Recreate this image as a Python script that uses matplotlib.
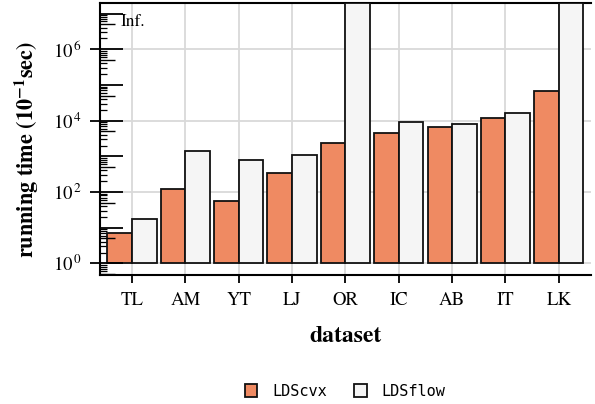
import numpy as np
import matplotlib
matplotlib.use("Agg")
import matplotlib.pyplot as plt
from matplotlib.ticker import FixedLocator, FixedFormatter, NullFormatter
from matplotlib.patches import Patch

datasets = ["TL", "AM", "YT", "LJ", "OR", "IC", "AB", "IT", "LK"]
lds_cvx = [7.1, 124, 55, 340, 2300, 4350, 6700, 11700, 67000]
lds_flow = [17.9, 1400, 800, 1100, np.inf, 8900, 7950, 16600, np.inf]
series_names = ["LDScvx", "LDSflow"]
colors = ["#ef8a62", "#f5f5f5"]

plt.rcParams["font.family"] = ["STIXGeneral", "DejaVu Serif"]
plt.rcParams["mathtext.fontset"] = "stix"

fig = plt.figure(figsize=(5.95, 4.04), dpi=100)
ax = fig.add_axes([0.168, 0.319, 0.825, 0.674])

ymin, ymax = 10 ** -0.33, 10 ** 7.3
x = np.arange(len(datasets))
w = 0.46
for i, (vals, col) in enumerate(zip([lds_cvx, lds_flow], colors)):
    v = np.array(vals, dtype=float)
    v = np.where(np.isinf(v), ymax, v)
    ax.bar(x + (i - 0.5) * w, v - 1, bottom=1, width=w, color=col,
           edgecolor="#111111", linewidth=1.3, zorder=3)

ax.set_yscale("log")
ax.set_ylim(ymin, ymax)
ax.set_xlim(-0.6, len(datasets) - 0.4)

# y ticks
major = [1e0, 1e2, 1e4, 1e6]
ax.yaxis.set_major_locator(FixedLocator(major))
ax.yaxis.set_major_formatter(FixedFormatter([r"$10^{\,0}$", r"$10^{\,2}$", r"$10^{\,4}$", r"$10^{\,6}$"]))
minors = [s * 10.0 ** k for k in range(-1, 8) for s in (2, 3, 4, 6, 7, 8, 9)]
ax.yaxis.set_minor_locator(FixedLocator(minors))
ax.yaxis.set_minor_formatter(NullFormatter())
ax.tick_params(axis="y", which="major", direction="out", length=7, width=1.3,
               labelsize=13.5, pad=6)
ax.tick_params(axis="y", which="minor", direction="in", length=5, width=0.9)

ax.set_xticks(x)
ax.set_xticklabels(datasets)
ax.tick_params(axis="x", which="major", direction="out", length=6, width=1.3,
               labelsize=13.5, pad=6)

ax.grid(True, which="major", color="#d9d9d9", linewidth=1.3)
ax.set_axisbelow(True)

for s in ["left", "bottom", "top"]:
    ax.spines[s].set_linewidth(1.5)
ax.spines["right"].set_visible(False)

# second tick layer (inward decade and 5x ticks)
ax2 = ax.twinx()
ax2.set_yscale("log")
ax2.set_ylim(ymin, ymax)
ax2.yaxis.tick_left()
ax2.yaxis.set_major_locator(FixedLocator([10.0 ** k for k in range(0, 8)]))
ax2.yaxis.set_major_formatter(NullFormatter())
ax2.yaxis.set_minor_locator(FixedLocator([5 * 10.0 ** k for k in range(-1, 7)]))
ax2.yaxis.set_minor_formatter(NullFormatter())
ax2.tick_params(axis="y", which="major", direction="in", length=16.5, width=1.3)
ax2.tick_params(axis="y", which="minor", direction="in", length=11, width=1.0)
for s in ax2.spines.values():
    s.set_visible(False)

ax.text(-0.22, 10 ** 6.77, "Inf.", fontsize=12.5, va="center", ha="left", zorder=5)

ax.set_xlabel("dataset", fontsize=17, fontweight="bold", labelpad=12)
ax.set_ylabel(r"running time (10$^{\mathbf{-1}}$sec)", fontsize=16, fontweight="bold")
ax.yaxis.set_label_coords(-0.12, 0.46)

handles = [Patch(facecolor=c, edgecolor="#111111", linewidth=1.3) for c in colors]
leg = fig.legend(handles, series_names, loc="center", bbox_to_anchor=(0.58, 0.032),
                 ncol=2, frameon=False, handlelength=0.8, handleheight=1.0,
                 handletextpad=1.0, columnspacing=1.8,
                 prop={"family": "DejaVu Sans Mono", "size": 11})

fig.savefig("out.png", dpi=100)
